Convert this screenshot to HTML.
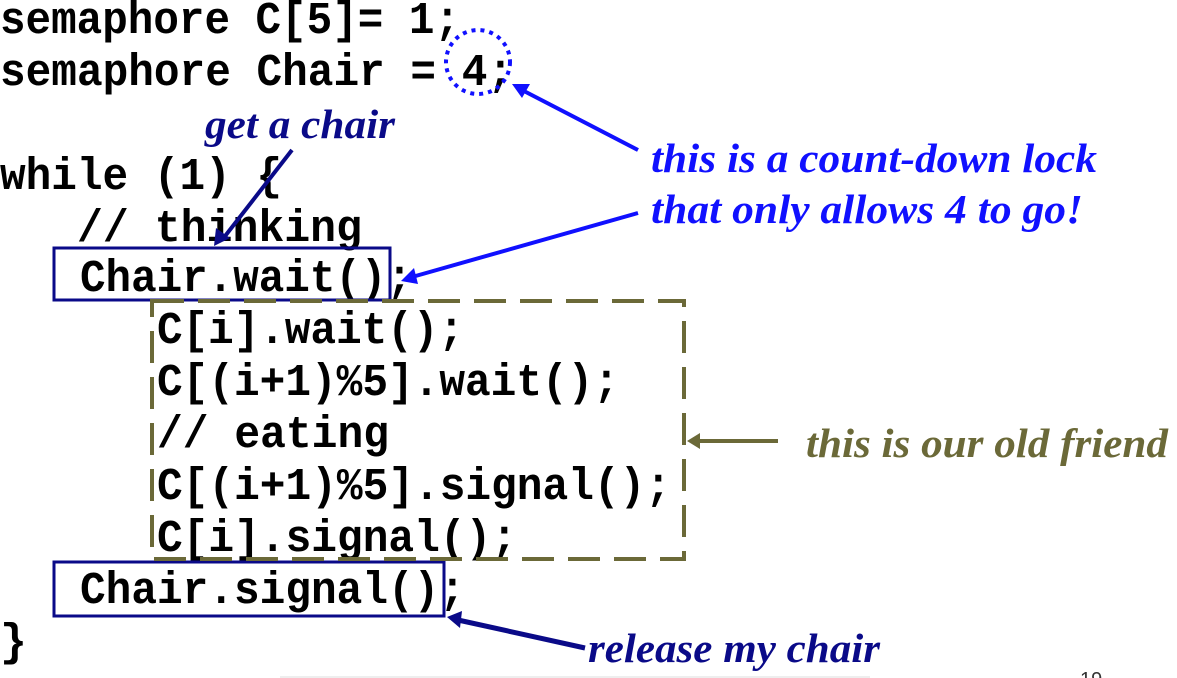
<!DOCTYPE html>
<html><head><meta charset="utf-8"><style>
html,body{margin:0;padding:0;background:#fff;}
svg{display:block;}
.c{font-family:"Liberation Mono",monospace;font-weight:bold;font-size:45px;fill:#000;}
.l{font-family:"Liberation Serif",serif;font-weight:bold;font-style:italic;font-size:41px;}
</style></head><body>
<svg width="1177" height="678" viewBox="0 0 1177 678" xmlns="http://www.w3.org/2000/svg">
<g class="c">
<text x="0" y="33" textLength="460" lengthAdjust="spacingAndGlyphs">semaphore C[5]= 1;</text>
<text x="0" y="85" textLength="513" lengthAdjust="spacingAndGlyphs">semaphore Chair = 4;</text>
<text x="0" y="189" textLength="282" lengthAdjust="spacingAndGlyphs">while (1) {</text>
<text x="77" y="241" textLength="285" lengthAdjust="spacingAndGlyphs">// thinking</text>
<text x="80" y="291" textLength="332" lengthAdjust="spacingAndGlyphs">Chair.wait();</text>
<text x="157" y="343" textLength="307" lengthAdjust="spacingAndGlyphs">C[i].wait();</text>
<text x="157" y="395" textLength="462" lengthAdjust="spacingAndGlyphs">C[(i+1)%5].wait();</text>
<text x="157" y="447" textLength="232" lengthAdjust="spacingAndGlyphs">// eating</text>
<text x="157" y="499" textLength="514" lengthAdjust="spacingAndGlyphs">C[(i+1)%5].signal();</text>
<text x="157" y="551" textLength="360" lengthAdjust="spacingAndGlyphs">C[i].signal();</text>
<text x="80" y="603" textLength="385" lengthAdjust="spacingAndGlyphs">Chair.signal();</text>
<text x="0" y="655">}</text>
</g>
<rect x="54" y="248" width="336" height="52" fill="none" stroke="#0a0a88" stroke-width="3"/>
<rect x="54" y="562" width="390" height="54" fill="none" stroke="#0a0a88" stroke-width="3"/>
<rect x="152" y="301" width="532" height="258" fill="none" stroke="#6b6938" stroke-width="4" stroke-dasharray="32,14"/>
<circle cx="478" cy="62" r="32" fill="none" stroke="#1010ff" stroke-width="4" stroke-dasharray="4,5"/>
<line x1="292" y1="150" x2="222" y2="240" stroke="#0a0a88" stroke-width="4"/>
<path d="M214,246 L216,228 L230,238z" fill="#0a0a88"/>
<line x1="638" y1="150" x2="522" y2="90" stroke="#1010ff" stroke-width="4"/>
<path d="M512,84 L530,84 L522,98z" fill="#1010ff"/>
<line x1="638" y1="213" x2="412" y2="277" stroke="#1010ff" stroke-width="4"/>
<path d="M401,281 L414,268 L418,284z" fill="#1010ff"/>
<line x1="778" y1="441" x2="696" y2="441" stroke="#6b6938" stroke-width="4"/>
<path d="M687,441 L700,433 L700,449z" fill="#6b6938"/>
<line x1="585" y1="648" x2="458" y2="620" stroke="#0a0a88" stroke-width="5"/>
<path d="M447,617 L462,611 L460,628z" fill="#0a0a88"/>
<text class="l" x="205" y="138" fill="#0a0a88" textLength="190" lengthAdjust="spacingAndGlyphs">get a chair</text>
<text class="l" x="651" y="172" fill="#1010ff" textLength="446" lengthAdjust="spacingAndGlyphs">this is a count-down lock</text>
<text class="l" x="651" y="223" fill="#1010ff" textLength="432" lengthAdjust="spacingAndGlyphs">that only allows 4 to go!</text>
<text class="l" x="806" y="457" fill="#6b6938" textLength="362" lengthAdjust="spacingAndGlyphs">this is our old friend</text>
<text class="l" x="588" y="662" fill="#0a0a88" textLength="292" lengthAdjust="spacingAndGlyphs">release my chair</text>
<line x1="280" y1="677" x2="870" y2="677" stroke="#eee" stroke-width="2"/>
<text x="1080" y="686" font-family="Liberation Sans, sans-serif" font-size="20" fill="#333">19</text>
</svg>
</body></html>
